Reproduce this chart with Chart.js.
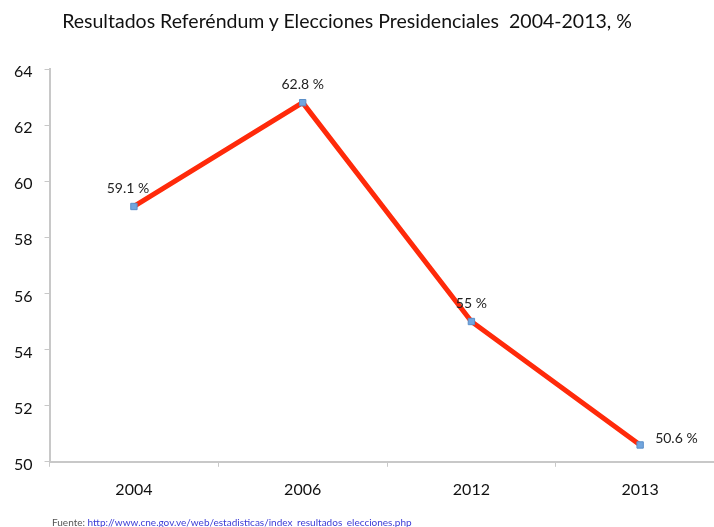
<!DOCTYPE html>
<html>
<head>
<meta charset="utf-8">
<script src="https://cdn.jsdelivr.net/npm/chart.js@4.4.1/dist/chart.umd.min.js"></script>
<style>
  body { margin: 0; background: #fff; }
  #wrap { position: relative; width: 714px; height: 527px; overflow: hidden; }
  #titre {
    position: absolute; left: 0; top: 9px; width: 694px; text-align: center;
    font-family: Lato, sans-serif; font-size: 19.5px; color: #111;
  }
  #fuente {
    position: absolute; left: 52px; top: 516px;
    font-family: Lato, sans-serif; font-size: 10px; color: #555;
  }
  #fuente a { color: #3b3bd6; }
</style>
</head>
<body>
<div id="wrap">
  <canvas id="myLineChart" width="730" height="527"></canvas>
  <div id="titre">Resultados Referéndum y Elecciones Presidenciales&nbsp; 2004-2013, %</div>
  <div id="fuente">Fuente: <a href="http://www.cne.gov.ve/web/estadisticas/index_resultados_elecciones.php">http://www.cne.gov.ve/web/estadisticas/index_resultados_elecciones.php</a></div>
</div>
<script>
// données
const years = ['2004', '2006', '2012', '2013']
const percents = [59.1, 62.8, 55, 50.6]
const yTicks = [50, 52, 54, 56, 58, 60, 62, 64]

// étiquettes des points : position autour du point
const labelPlacement = ['above', 'above', 'above', 'right']

const pointLabels = {
    id: 'pointLabels',
    afterDatasetsDraw(chart) {
        const ctx = chart.ctx
        const meta = chart.getDatasetMeta(0)
        ctx.save()
        ctx.font = '14px Lato, sans-serif'
        ctx.fillStyle = '#222'
        ctx.textBaseline = 'middle'
        meta.data.forEach((pt, i) => {
            const text = percents[i] + ' %'
            if (labelPlacement[i] === 'right') {
                ctx.textAlign = 'left'
                ctx.fillText(text, pt.x + 15, pt.y - 6)
            } else {
                ctx.textAlign = 'center'
                ctx.fillText(text, pt.x - (i === 0 ? 6 : 0), pt.y - 18)
            }
        })
        ctx.restore()
    }
}

const ctx = document.getElementById('myLineChart').getContext('2d')
const myLineChart = new Chart(ctx, {
    type: 'line',
    data: {
        labels: years,
        datasets: [{
            data: percents,
            borderColor: '#ff2a0a',
            borderWidth: 5,
            pointStyle: 'rect',
            pointRadius: 4.5,
            pointBackgroundColor: '#72a6de',
            pointBorderColor: '#5b8fc9',
            pointBorderWidth: 1,
            tension: 0
        }]
    },
    options: {
        responsive: false,
        animation: false,
        layout: { padding: { left: 2, right: 3, top: 69, bottom: 15 } },
        plugins: {
            legend: { display: false },
            tooltip: { enabled: false }
        },
        scales: {
            x: {
                offset: true,
                grid: { offset: true, drawOnChartArea: false, tickLength: 5, color: '#c8c8c8' },
                border: { color: '#c8c8c8', width: 2 },
                ticks: { color: '#111', font: { family: 'Lato, sans-serif', size: 16 }, padding: 13 }
            },
            y: {
                min: 50,
                max: 64,
                afterBuildTicks: axis => { axis.ticks = yTicks.map(v => ({ value: v })) },
                grid: { drawOnChartArea: false, tickLength: 5, color: '#c8c8c8' },
                border: { color: '#c8c8c8', width: 2 },
                ticks: { color: '#111', font: { family: 'Lato, sans-serif', size: 16 }, padding: 12, labelOffset: 3 }
            }
        }
    },
    plugins: [pointLabels]
})
</script>
</body>
</html>
